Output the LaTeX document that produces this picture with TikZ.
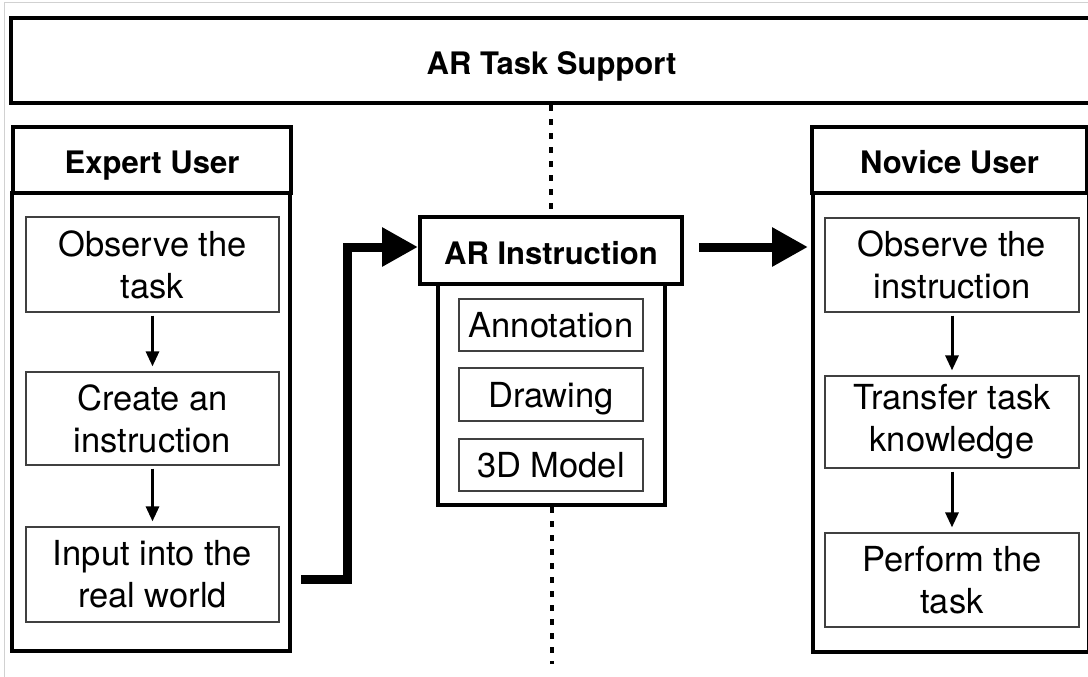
\documentclass[tikz,border=0pt]{standalone}
\usepackage{fontspec}
\setmainfont{TeX Gyre Heros}
\usetikzlibrary{arrows.meta}
\begin{document}
\begin{tikzpicture}[x=1pt,y=-1pt,
  bigbox/.style={draw, line width=4pt, inner sep=0pt, text height=27.5pt, text depth=0pt, font=\fontsize{31}{37}\selectfont\bfseries},
  frame/.style={draw, line width=4pt, inner sep=0pt},
  smallbox/.style={draw=black!75, line width=1.2pt, inner sep=0pt, align=center, font=\fontsize{34.5}{42}\selectfont},
  oneline/.style={text height=25pt, text depth=0pt},
  flow/.style={line width=3pt, -{Triangle[length=15pt,width=13pt]}, shorten <=3pt, shorten >=5pt},
  bigarrow/.style={line width=9pt, -{Triangle[length=36pt,width=37pt]}},
  divider/.style={line width=4pt, dash pattern=on 6pt off 8pt}]
\useasboundingbox (0,0) rectangle (1088,677);
% screenshot border
\draw[black!18, line width=1pt] (4,677) -- (4,3) -- (1092,3);
% top banner
\node[bigbox, minimum width=1081pt, minimum height=85pt] (top) at (551.5,60.5) {AR Task Support};
% expert column
\node[frame, minimum width=278pt, minimum height=458pt] (expbody) at (151,422) {};
\node[bigbox, minimum width=278pt, minimum height=66pt] (exphead) at (152,160) {Expert User};
\node[smallbox, minimum width=253pt, minimum height=95pt] (e1) at (152.5,264.5) {Observe the\\task};
\node[smallbox, minimum width=253pt, minimum height=93pt] (e2) at (152.5,418.5) {Create an\\instruction};
\node[smallbox, minimum width=253pt, minimum height=95pt] (e3) at (152.5,574.5) {Input into the\\real world};
\draw[flow] (e1) -- (e2);
\draw[flow] (e2) -- (e3);
% AR instruction column
\node[frame, minimum width=227pt, minimum height=221pt] (arbody) at (551.5,394.5) {};
\node[bigbox, fill=white, minimum width=262pt, minimum height=67pt] (arhead) at (551,250.5) {AR Instruction};
\node[smallbox, oneline, minimum width=184pt, minimum height=52pt] (a1) at (551,325) {Annotation};
\node[smallbox, oneline, minimum width=184pt, minimum height=53pt] (a2) at (551,394.5) {Drawing};
\node[smallbox, oneline, minimum width=184pt, minimum height=52pt] (a3) at (551,465) {3D Model};
% novice column
\node[frame, minimum width=276pt, minimum height=459pt] (novbody) at (951,422.5) {};
\node[bigbox, minimum width=275pt, minimum height=66pt] (novhead) at (949.5,160) {Novice User};
\node[smallbox, minimum width=254pt, minimum height=94pt] (n1) at (952,265) {Observe the\\instruction};
\node[smallbox, minimum width=254pt, minimum height=92pt] (n2) at (952,422) {Transfer task\\knowledge};
\node[smallbox, minimum width=254pt, minimum height=94pt] (n3) at (952,580) {Perform the\\task};
\draw[flow] (n1) -- (n2);
\draw[flow] (n2) -- (n3);
% divider
\draw[divider] (top.south -| arhead.north) -- (arhead.north);
\draw[divider] (arbody.south) -- ++(0,157);
% big arrows
\coordinate (s) at (301,579.5);
\coordinate (bend) at (347.5,247);
\draw[bigarrow] (s) -| (bend) -- (bend -| arhead.west);
\coordinate (r) at (699,247);
\draw[bigarrow, shorten >=2pt] (r) -- (r -| novhead.west);
\end{tikzpicture}
\end{document}
